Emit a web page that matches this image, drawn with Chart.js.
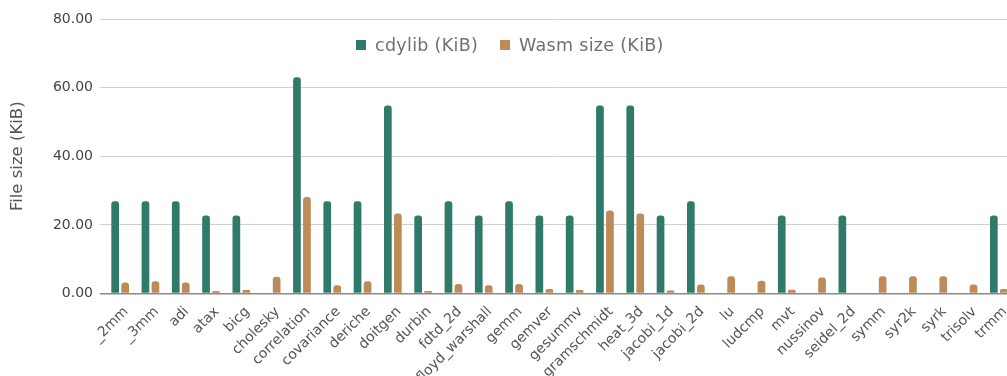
<!DOCTYPE html>
<html>
<head>
<meta charset="utf-8">
<script src="https://cdn.jsdelivr.net/npm/chart.js@4.4.0/dist/chart.umd.min.js"></script>
<style>
  html, body { margin: 0; padding: 0; background: #fff; overflow: hidden; }
  #wrap { position: relative; width: 1014px; height: 388px; }
  #legend { position: absolute; left: 356px; top: 35px; font-family: 'DejaVu Sans', sans-serif; font-size: 17.5px; color: #707070; white-space: nowrap; }
  #legend span.box { display: inline-block; width: 10px; height: 10px; margin-right: 9px; vertical-align: 1px; }
  #legend span.item { margin-right: 22px; letter-spacing: 0.3px; }
</style>
</head>
<body>
<div id="wrap">
  <canvas id="size-chart"></canvas>
  <div id="legend"></div>
</div>
<script>
// benchmarks (x axis)
const benchmarks = ['_2mm', '_3mm', 'adi', 'atax', 'bicg', 'cholesky', 'correlation', 'covariance', 'deriche', 'doitgen',
  'durbin', 'fdtd_2d', 'floyd_warshall', 'gemm', 'gemver', 'gesummv', 'gramschmidt', 'heat_3d', 'jacobi_1d', 'jacobi_2d',
  'lu', 'ludcmp', 'mvt', 'nussinov', 'seidel_2d', 'symm', 'syr2k', 'syrk', 'trisolv', 'trmm'];

// sizes in KiB
const cdylibSize = [26.9, 26.9, 26.9, 22.7, 22.7, 0, 63.0, 26.9, 26.9, 54.8,
  22.7, 26.9, 22.7, 26.9, 22.7, 22.7, 54.8, 54.8, 22.7, 26.9,
  0, 0, 22.7, 0, 22.7, 0, 0, 0, 0, 22.7];
const wasmSize = [3.2, 3.6, 3.2, 0.7, 1.0, 4.9, 28.1, 2.4, 3.6, 23.3,
  0.7, 2.8, 2.4, 2.8, 1.3, 1.0, 24.2, 23.3, 0.9, 2.6,
  5.0, 3.7, 1.1, 4.7, 0, 5.0, 5.0, 5.0, 2.6, 1.3];

const yTicks = [0, 20, 40, 60, 80];

const seriesNames = ['cdylib (KiB)', 'Wasm size (KiB)'];
const seriesColors = ['#2f7a69', '#bd8a59'];

const font = 'DejaVu Sans, sans-serif';

let ctx = document.getElementById('size-chart').getContext('2d');

new Chart(ctx, {
  type: 'bar',
  data: {
    labels: benchmarks,
    datasets: [cdylibSize, wasmSize].map((vals, i) => ({
      label: seriesNames[i],
      data: vals,
      backgroundColor: seriesColors[i],
      borderRadius: 3,
      borderSkipped: 'start',
      categoryPercentage: 0.66,
      barPercentage: 0.77
    }))
  },
  options: {
    responsive: true,
    maintainAspectRatio: false,
    animation: false,
    layout: { padding: { top: 19, right: 0, left: 4 } },
    plugins: {
      legend: { display: false },
      tooltip: { enabled: false }
    },
    scales: {
      y: {
        min: 0,
        max: 80,
        afterBuildTicks: axis => { axis.ticks = yTicks.map(v => ({ value: v })); },
        afterFit: axis => { axis.width = 101; },
        border: { display: false },
        grid: {
          color: c => c.tick && c.tick.value === 0 ? '#8a8a8a' : '#cfcfcf',
          lineWidth: c => c.tick && c.tick.value === 0 ? 1.5 : 1,
          drawTicks: true,
          tickLength: 5
        },
        ticks: {
          padding: 7,
          color: '#444',
          font: { family: font, size: 14 },
          callback: v => v.toFixed(2)
        },
        title: {
          display: true,
          text: 'File size (KiB)',
          color: '#555',
          font: { family: font, size: 16.5 },
          padding: { top: 4, bottom: 0 }
        }
      },
      x: {
        grid: { display: false },
        border: { display: false },
        ticks: {
          color: '#555',
          font: { family: font, size: 14 },
          maxRotation: 45,
          minRotation: 45,
          autoSkip: false,
          labelOffset: 6,
          padding: 2
        }
      }
    }
  }
});

// legend drawn as html over the plot, like the original
let legend = document.getElementById('legend');
legend.innerHTML = seriesNames.map((name, i) =>
  `<span class="item"><span class="box" style="background:${seriesColors[i]}"></span>${name}</span>`).join('');
</script>
</body>
</html>
